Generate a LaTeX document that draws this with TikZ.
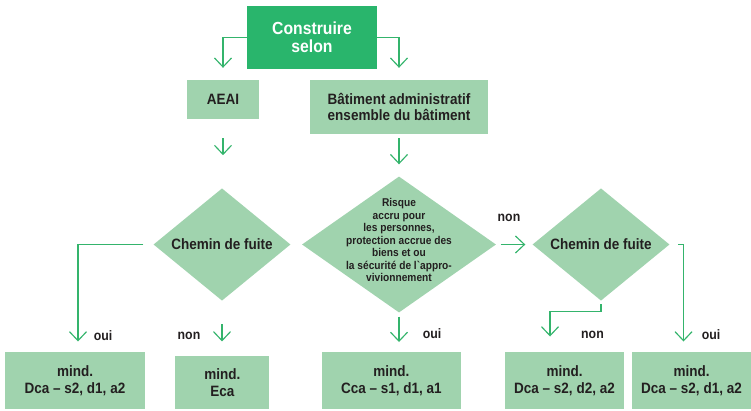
\documentclass[tikz,border=0pt]{standalone}
\usepackage{fontspec}
\newfontfamily\lsans{Liberation Sans}[FakeStretch=0.9]
\usetikzlibrary{arrows.meta,shapes.geometric}
\definecolor{lightgr}{HTML}{A0D3AE}
\definecolor{darkgr}{HTML}{29B56C}
\definecolor{linegr}{HTML}{34B46C}
\definecolor{txt}{HTML}{231F20}
\tikzset{
  box/.style={rectangle, fill=lightgr, inner sep=0pt, align=center, text=txt,
    font=\lsans\bfseries\fontsize{15}{17.5}\selectfont},
  topbox/.style={rectangle, fill=darkgr, inner sep=0pt, align=center, text=white,
    font=\lsans\bfseries\fontsize{17.5}{18.3}\selectfont},
  decision/.style={diamond, fill=lightgr, inner sep=0pt, align=center, text=txt,
    font=\lsans\bfseries\fontsize{15}{16}\selectfont},
  lbl/.style={text=txt, inner sep=0pt, font=\lsans\bfseries\fontsize{13.7}{15}\selectfont},
  conn/.style={draw=linegr, line width=1.15pt, -{Straight Barb[length=9pt,width=17pt,line width=1.15pt]}}
}
\begin{document}
\begin{tikzpicture}[x=1pt,y=-1pt]
\useasboundingbox (0,0) rectangle (751,410);
% nodes
\node[topbox, minimum width=130pt, minimum height=63pt] (top) at (312,37.5) {Construire\\selon};
\node[box, minimum width=72pt, minimum height=39pt] (aeai) at (223,99.5) {AEAI};
\node[box, minimum width=178pt, minimum height=54pt, font=\lsans\bfseries\fontsize{15}{16.3}\selectfont] (bat) at (399,107) {Bâtiment administratif\\ensemble du bâtiment};
\node[decision, minimum width=137pt, minimum height=96pt] (d1) at (222,244.5) {Chemin de fuite};
\node[decision, minimum width=194pt, minimum height=136pt,
  label={[text=txt, align=center, inner sep=0pt, yshift=4.5pt,
    font=\lsans\bfseries\fontsize{11.3}{12.5}\selectfont]center:{Risque\\accru pour\\les personnes,\\protection accrue des\\biens et ou\\la sécurité de l`appro-\\vivionnement}}] (d2) at (399,244.5) {};
\node[decision, minimum width=137pt, minimum height=96pt] (d3) at (601,244.5) {Chemin de fuite};
\node[box, minimum width=140pt, minimum height=57pt] (b1) at (75,380.7) {mind.\\Dca – s2, d1, a2};
\node[box, minimum width=94pt, minimum height=53.5pt] (b2) at (222.3,382.4) {mind.\\Eca};
\node[box, minimum width=139.3pt, minimum height=57pt] (b3) at (391.3,380.7) {mind.\\Cca – s1, d1, a1};
\node[box, minimum width=119pt, minimum height=57pt] (b4) at (564.5,380.7) {mind.\\Dca – s2, d2, a2};
\node[box, minimum width=119pt, minimum height=57pt] (b5) at (691.5,380.7) {mind.\\Dca – s2, d1, a2};
% labels
\node[lbl] (l1) at (103,336) {oui};
\node[lbl] (l2) at (189,336) {non};
\node[lbl] (l3) at (432,334) {oui};
\node[lbl] (l4) at (509,218) {non};
\node[lbl] (l5) at (592.5,335) {non};
\node[lbl] (l6) at (711,335) {oui};
% connectors
\draw[conn, shorten >=12pt] (top.west) -| (aeai.north);
\draw[conn, shorten >=12pt] (top.east) -| (bat.north);
\draw[conn, shorten <=19pt, shorten >=33pt] (aeai.south) -- (aeai.south |- d1.north);
\draw[conn, shorten <=4pt, shorten >=12pt] (bat.south) -- (d2.north);
\draw[conn, shorten <=4.5pt, shorten >=7pt] (d2.east) -- (d3.west);
\draw[conn, shorten <=10pt, shorten >=10.5pt] (d1.west) -| ([xshift=3pt]b1.north);
\draw[conn, shorten <=23.5pt, shorten >=14pt] (d1.south) -- (d1.south |- b2.north);
\draw[conn, shorten <=4pt, shorten >=10pt] (d2.south) -- (d2.south |- b3.north);
\draw[conn, shorten <=8.5pt, shorten >=10.5pt] (d3.east) -| ([xshift=-8pt]b5.north);
\draw[conn, shorten <=3.5pt, shorten >=15.5pt] (d3.south) -- ++(0,11) -| ([xshift=-14.5pt]b4.north);
\end{tikzpicture}
\end{document}
